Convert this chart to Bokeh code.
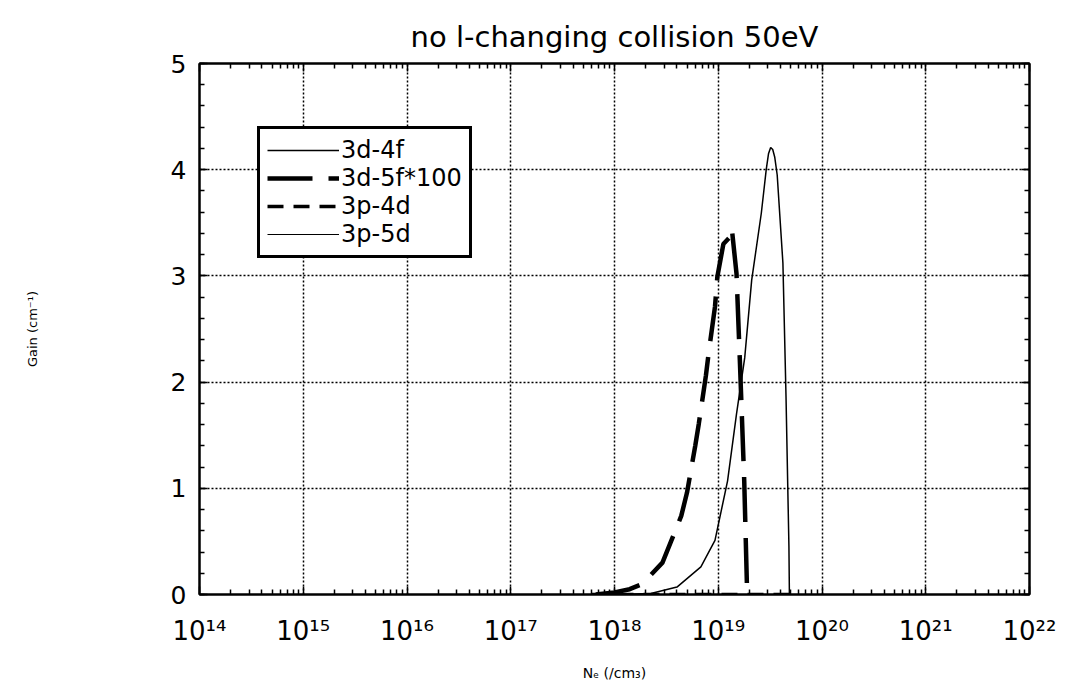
from bokeh.plotting import figure
from bokeh.models import (LogAxis, LinearAxis, FixedTicker, CustomJSTickFormatter,
                          Legend, LegendItem, Range1d)
from bokeh.embed import file_html
from bokeh.resources import INLINE

# ---------------- data ----------------
title_text = "no l-changing collision 50eV"
x_axis_label = "Nₑ (/cm₃)"
y_axis_label = "Gain (cm⁻¹)"
x_tick_exponents = [14, 15, 16, 17, 18, 19, 20, 21, 22]
x_tick_labels = ["10¹⁴", "10¹⁵", "10¹⁶", "10¹⁷", "10¹⁸", "10¹⁹", "10²⁰", "10²¹", "10²²"]
y_ticks = [0, 1, 2, 3, 4, 5]

series_names = ["3d-4f", "3d-5f*100", "3p-4d", "3p-5d"]

ne_3d4f = [6.0e17, 1.0e18, 2.24e18, 4.0e18, 6.8e18, 9.3e18, 1.23e19, 1.5e19, 1.8e19,
           2.1e19, 2.6e19, 2.9e19, 3.05e19, 3.2e19, 3.35e19, 3.5e19, 3.7e19, 4.2e19,
           4.5e19, 4.8e19, 4.85e19]
gain_3d4f = [0.0, 0.0, 0.01, 0.07, 0.26, 0.51, 1.07, 1.70, 2.23,
             2.96, 3.59, 4.00, 4.15, 4.21, 4.19, 4.12, 3.95, 3.12,
             1.86, 0.45, 0.0]

ne_3d5f = [6.6e17, 1.0e18, 1.4e18, 1.86e18, 2.9e18, 4.4e18, 5.0e18, 6.0e18, 6.5e18,
           7.6e18, 8.1e18, 9.3e18, 9.8e18, 1.12e19, 1.28e19, 1.35e19, 1.5e19,
           1.62e19, 1.78e19, 1.9e19]
gain_3d5f = [0.0, 0.02, 0.05, 0.10, 0.30, 0.74, 0.96, 1.40, 1.61,
             2.06, 2.28, 2.71, 2.99, 3.30, 3.36, 3.45, 3.02,
             2.17, 1.07, 0.0]

ne_3p4d = [6.0e17, 5.0e19]
gain_3p4d = [0.0, 0.0]

ne_3p5d = [6.0e17, 5.0e19]
gain_3p5d = [0.0, 0.0]

# ---------------- figure ----------------
FONT = "DejaVu Sans"

p = figure(width=1066, height=699, x_axis_type="log",
           x_range=Range1d(1e14, 1e22), y_range=Range1d(0, 5),
           output_backend="svg", toolbar_location=None,
           min_border_left=199, min_border_right=37,
           min_border_top=63, min_border_bottom=105)

p.title.text = title_text
p.title.align = "center"
p.title.text_font = FONT
p.title.text_font_size = "29px"
p.title.text_font_style = "normal"
p.title.text_color = "black"
p.title.standoff = 20

p.outline_line_color = "black"
p.outline_line_width = 2
p.background_fill_color = "white"
p.border_fill_color = "white"

major_x = [10.0 ** e for e in x_tick_exponents]
minor_x = [m * 10.0 ** e for e in x_tick_exponents[:-1] for m in range(2, 10)]
x_ticker = FixedTicker(ticks=major_x, minor_ticks=minor_x)
minor_y = [i * 0.2 for i in range(26)]
y_ticker = FixedTicker(ticks=y_ticks, minor_ticks=minor_y)

x_fmt = CustomJSTickFormatter(args=dict(exps=x_tick_exponents, labs=x_tick_labels),
                              code="""
const e = Math.round(Math.log10(tick));
const i = exps.indexOf(e);
return i >= 0 ? labs[i] : '';
""")
blank_fmt = CustomJSTickFormatter(code="return '';")

xa = p.xaxis[0]
xa.ticker = x_ticker
xa.formatter = x_fmt
ya = p.yaxis[0]
ya.ticker = y_ticker

for ax in (xa, ya):
    ax.axis_line_color = "black"
    ax.axis_line_width = 2
    ax.major_tick_in = 8
    ax.major_tick_out = 0
    ax.minor_tick_in = 5
    ax.minor_tick_out = 0
    ax.major_tick_line_width = 1.5
    ax.minor_tick_line_width = 1.5
    ax.major_tick_line_color = "black"
    ax.minor_tick_line_color = "black"
    ax.major_label_text_font = FONT
    ax.major_label_text_color = "black"
    ax.axis_label_text_font = FONT
    ax.axis_label_text_font_style = "normal"
    ax.axis_label_text_color = "black"

xa.major_label_text_font_size = "26px"
xa.major_label_standoff = 21
xa.axis_label = x_axis_label
xa.axis_label_text_font_size = "14px"
xa.axis_label_standoff = 16

ya.major_label_text_font_size = "25px"
ya.major_label_standoff = 13
ya.axis_label = y_axis_label
ya.axis_label_text_font_size = "13px"
ya.axis_label_standoff = 128

# mirrored axes (ticks only)
top = LogAxis(ticker=x_ticker, formatter=blank_fmt, major_label_text_font_size="6px")
right = LinearAxis(ticker=y_ticker, formatter=blank_fmt, major_label_text_font_size="6px")
for ax in (top, right):
    ax.axis_line_color = "black"
    ax.axis_line_width = 2
    ax.major_tick_in = 8
    ax.major_tick_out = 0
    ax.minor_tick_in = 5
    ax.minor_tick_out = 0
    ax.major_tick_line_width = 1.5
    ax.minor_tick_line_width = 1.5
    ax.major_label_standoff = 0
p.add_layout(top, "above")
p.add_layout(right, "right")

for g in (p.xgrid[0], p.ygrid[0]):
    g.grid_line_color = "black"
    g.grid_line_width = 1.5
    g.grid_line_dash = "2 2"
p.xgrid[0].ticker = x_ticker
p.ygrid[0].ticker = y_ticker

# ---------------- curves ----------------
r1 = p.line(ne_3d4f, gain_3d4f, line_color="black", line_width=1.5)
r2 = p.line(ne_3d5f, gain_3d5f, line_color="black", line_width=4.5, line_dash="45 16")
r3 = p.line(ne_3p4d, gain_3p4d, line_color="black", line_width=3.5, line_dash="16 10")
r4 = p.line(ne_3p5d, gain_3p5d, line_color="black", line_width=1.2)

legend = Legend(items=[LegendItem(label=series_names[0], renderers=[r1]),
                       LegendItem(label=series_names[1], renderers=[r2]),
                       LegendItem(label=series_names[2], renderers=[r3]),
                       LegendItem(label=series_names[3], renderers=[r4])],
                location=(58, 336))
legend.border_line_color = "black"
legend.border_line_alpha = 1.0
legend.border_line_width = 3
legend.background_fill_color = "white"
legend.background_fill_alpha = 1.0
legend.label_text_font = FONT
legend.label_text_font_size = "24px"
legend.label_text_color = "black"
legend.glyph_width = 72
legend.glyph_height = 20
legend.label_height = 20
legend.label_standoff = 2
legend.spacing = 0
legend.padding = 7
legend.margin = 0
p.add_layout(legend)

open("out.html", "w").write(file_html(p, INLINE))
